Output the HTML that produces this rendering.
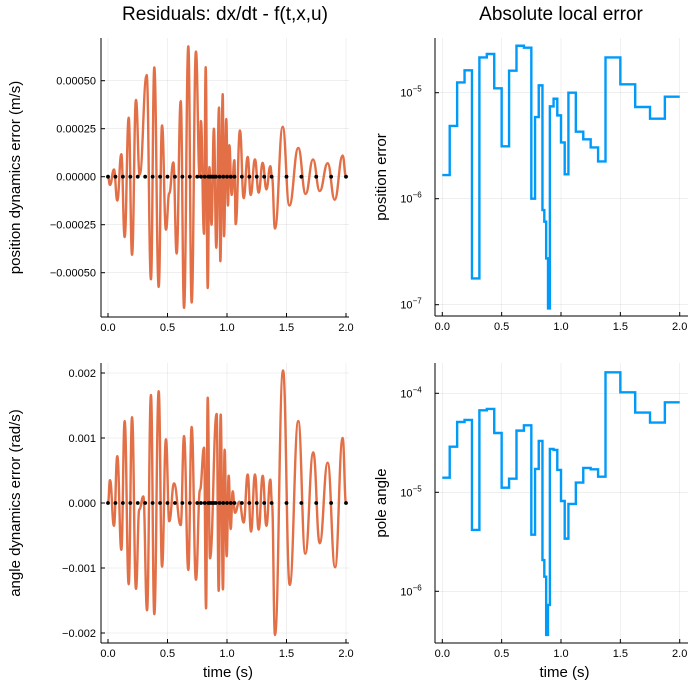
<!DOCTYPE html>
<html><head><meta charset="utf-8"><style>
html,body{margin:0;padding:0;background:#fff}
svg{display:block;font-family:"Liberation Sans","DejaVu Sans",sans-serif}
</style></head><body>
<svg id="chart" width="699" height="700" viewBox="0 0 699 700">
<rect x="0" y="0" width="699" height="700" fill="#fff"/>
<text x="225" y="20" font-size="19" text-anchor="middle" fill="#000">Residuals: dx/dt - f(t,x,u)</text>
<text x="561" y="20" font-size="19" text-anchor="middle" fill="#000">Absolute local error</text>
<g id="layer"></g>
</svg>
<script>
// mesh edges (time)
const meshT = [0,0.0625,0.125,0.1875,0.25,0.3125,0.375,0.4375,0.5,0.5625,0.625,0.6875,0.75,0.78125,0.8125,0.84375,0.859375,0.875,0.890625,0.90625,0.9375,0.96875,1.0,1.03125,1.0625,1.125,1.1875,1.25,1.3125,1.375,1.5,1.625,1.75,1.875,2.0];
// log10 of absolute local error per interval
const posErrLog = [-5.777,-5.314,-4.903,-4.789,-6.752,-4.667,-4.635,-4.959,-5.506,-4.792,-4.557,-4.575,-6.0,-5.230,-4.931,-6.107,-6.217,-6.563,-7.035,-5.129,-5.057,-5.214,-5.469,-5.770,-5.0,-5.368,-5.440,-5.516,-5.648,-4.667,-4.921,-5.135,-5.245,-5.038];
const angErrLog = [-4.852,-4.539,-4.290,-4.269,-5.380,-4.172,-4.158,-4.401,-4.953,-4.862,-4.377,-4.323,-5.428,-4.764,-4.481,-5.684,-5.852,-6.441,-6.138,-4.562,-4.572,-4.774,-5.088,-5.468,-5.118,-4.902,-4.754,-4.768,-4.842,-3.788,-3.990,-4.195,-4.296,-4.091];
// residual extrema: position in 1e-4 m/s
const posResT = [0,.017,.050,.078,.112,.140,.174,.202,.235,.266,
 .325,.361,.389,.426,.454,.487,.515,.549,.577,.611,
 .639,.675,.703,.739,.770,.781,.807,.821,.838,.852,
 .870,.890,.910,.933,.944,.964,.975,.994,1.008,1.020,
 1.039,1.062,1.073,1.109,1.140,1.174,1.199,1.235,1.266,1.300,
 1.331,1.364,1.378,1.403,1.468,1.524,1.599,1.661,1.723,1.779,
 1.846,1.905,1.972,2.0];
const posResV = [0,-0.43,0.38,-1.24,1.17,-3.14,3.07,-4.07,4.0,0.1,
 5.29,-5.34,5.69,-5.74,2.67,-2.76,-0.86,0.74,-4.0,3.93,
 -6.83,6.79,-6.55,6.52,0,2.9,-2.97,5.7,-5.8,0.5,
 -2.5,2.5,-3.7,3.6,-4.4,4.3,-3.1,3.0,-1.5,1.64,
 -0.95,0.86,-2.47,2.41,-1.12,1.03,-0.95,0.9,-0.83,0.72,
 -0.66,0.55,0,-2.7,2.6,-1.5,1.5,-0.9,0.9,-0.75,
 0.7,-1.2,1.1,0];
// angle residual extrema in 1e-3 rad/s
const angResT = [0,.017,.050,.078,.112,.140,.174,.202,.235,.263,
 .297,.328,.361,.389,.426,.454,.487,.515,.555,.611,
 .639,.675,.703,.739,.773,.807,.824,.838,.857,.913,
 .930,.947,.966,.980,.997,1.014,1.031,1.048,1.067,1.104,
 1.140,1.174,1.202,1.235,1.266,1.300,1.331,1.364,1.378,1.403,
 1.471,1.527,1.599,1.658,1.725,1.779,1.846,1.908,1.972,2.0];
const angResV = [0,.35,-.35,.72,-.72,1.26,-1.25,1.32,-1.32,-0.1,
 .1,-1.65,1.66,-1.71,1.72,-.98,.98,-.28,.3,-.34,
 1.03,-1.03,1.17,-1.18,.2,.85,-1.62,1.62,-.85,1.37,
 -1.35,1.36,-1.33,.82,-.82,.42,-.4,.18,-.15,.02,
 -.3,.44,-.44,.44,-.41,.42,-.35,.36,0,-2.03,
 2.04,-1.26,1.26,-.78,.78,-.62,.62,-.99,1.0,0];
const xTicks = [0,0.5,1.0,1.5,2.0];
const xTickLabels = ["0.0","0.5","1.0","1.5","2.0"];
const posTicks = [5,2.5,0,-2.5,-5];
const posTickLabels = ["0.00050","0.00025","0.00000","−0.00025","−0.00050"];
const angTicks = [2,1,0,-1,-2];
const angTickLabels = ["0.002","0.001","0.000","−0.001","−0.002"];
const posLogTicks = [-5,-6,-7];
const angLogTicks = [-4,-5,-6];

const NS="http://www.w3.org/2000/svg";
const layer=document.getElementById('layer');
function mk(tag,attrs,parent){const e=document.createElementNS(NS,tag);for(const k in attrs)e.setAttribute(k,attrs[k]);(parent||layer).appendChild(e);return e;}

const panels = {
  tl:{x0:101,x1:349,y0:38,y1:317,tx0:108,tsc:119,vy0:176.7,vsc:-19.2},
  bl:{x0:101,x1:349,y0:363,y1:643,tx0:108,tsc:119,vy0:503,vsc:-65},
  tr:{x0:435,x1:688,y0:38,y1:316,tx0:442.3,tsc:118.7,ly:92.7,lsc:106,lref:-5},
  br:{x0:435,x1:688,y0:363,y1:643,tx0:442.3,tsc:118.7,ly:393.3,lsc:99,lref:-4}
};
function X(p,t){return p.tx0+t*p.tsc;}
function YL(p,v){return p.vy0+v*p.vsc;}
function YG(p,l){return p.ly+(p.lref-l)*p.lsc;}

function frame(p,name,yTickVals,yFn,yLabelFn,ylabel,xlabel){
  const g=mk('g',{});
  
  
  xTicks.forEach((t,i)=>{
    const x=X(p,t);
    const gl=mk('line',{x1:x,x2:x,y1:p.y0,y2:p.y1,stroke:'#000','stroke-opacity':0.1,'stroke-width':0.6},g);
    
    
    mk('line',{x1:x,x2:x,y1:p.y1,y2:p.y1-4,stroke:'#000','stroke-width':1},g);
    const tl=mk('text',{x:x,y:p.y1+14,'font-size':11,'text-anchor':'middle',fill:'#000'},g);
    tl.textContent=xTickLabels[i];
    
    
  });
  yTickVals.forEach((v,i)=>{
    const y=yFn(v);
    const gl=mk('line',{x1:p.x0,x2:p.x1,y1:y,y2:y,stroke:'#000','stroke-opacity':0.1,'stroke-width':0.6},g);
    
    
    mk('line',{x1:p.x0,x2:p.x0+4,y1:y,y2:y,stroke:'#000','stroke-width':1},g);
    yLabelFn(g,v,i,y);
  });
  mk('line',{x1:p.x0,x2:p.x0,y1:p.y0,y2:p.y1,stroke:'#000','stroke-width':1},g);
  mk('line',{x1:p.x0,x2:p.x1,y1:p.y1,y2:p.y1,stroke:'#000','stroke-width':1},g);
  const cy=(p.y0+p.y1)/2;
  const lx = p.x0<200 ? 20 : 386;
  const yl=mk('text',{x:lx,y:cy,'font-size':15,'text-anchor':'middle',transform:`rotate(-90 ${lx} ${cy})`,fill:'#000'},g);
  yl.textContent=ylabel;
  
  
  if(xlabel){
    const xl=mk('text',{x:(p.x0+p.x1)/2+3,y:677,'font-size':15,'text-anchor':'middle',fill:'#000'},g);
    xl.textContent=xlabel;
    
    
  }
}
function linLabel(labels){return (g,v,i,y)=>{
  const t=mk('text',{x:96,y:y+4,'font-size':11,'text-anchor':'end',fill:'#000'},g);
  t.textContent=labels[i];
  
  
};}
function logLabel(g,v,i,y){
  const t=mk('text',{x:411,y:y+4,'font-size':11,'text-anchor':'middle',fill:'#000'},g);
  
  
  const a=mk('tspan',{},t);a.textContent='10';
  const b=mk('tspan',{dy:-5,'font-size':8},t);b.textContent=String(v).replace('-','−');
}

function residual(p,ts,vs,name){
  const n=Math.min(ts.length,vs.length);
  let d='M'+X(p,ts[0])+','+YL(p,vs[0]);
  for(let i=1;i<n;i++){
    const xa=X(p,ts[i-1]),ya=YL(p,vs[i-1]),xb=X(p,ts[i]),yb=YL(p,vs[i]);
    const h=(xb-xa)*0.45;
    d+=` C${xa+h},${ya} ${xb-h},${yb} ${xb},${yb}`;
  }
  const path=mk('path',{d:d,fill:'none',stroke:'#e26f46','stroke-width':2.4,'stroke-linejoin':'round'});
  
  
  meshT.forEach(t=>{
    const c=mk('circle',{cx:X(p,t),cy:YL(p,0),r:1.9,fill:'#000'});
    
    
  });
}
function steps(p,logs,name){
  let d='';
  for(let i=0;i<logs.length;i++){
    const y=YG(p,logs[i]);
    d+=(i===0?'M':'L')+X(p,meshT[i])+','+y+' L'+X(p,meshT[i+1])+','+y+' ';
  }
  const path=mk('path',{d:d,fill:'none',stroke:'#009af9','stroke-width':2.4,'stroke-linejoin':'miter'});
  
  
}

frame(panels.tl,'position-residual-panel',posTicks,v=>YL(panels.tl,v),linLabel(posTickLabels),'position dynamics error (m/s)',null);
frame(panels.bl,'angle-residual-panel',angTicks,v=>YL(panels.bl,v),linLabel(angTickLabels),'angle dynamics error (rad/s)','time (s)');
frame(panels.tr,'position-error-panel',posLogTicks,v=>YG(panels.tr,v),logLabel,'position error',null);
frame(panels.br,'angle-error-panel',angLogTicks,v=>YG(panels.br,v),logLabel,'pole angle','time (s)');

residual(panels.tl,posResT,posResV,'position-residual-line');
residual(panels.bl,angResT,angResV,'angle-residual-line');
steps(panels.tr,posErrLog,'position-error-line');
steps(panels.br,angErrLog,'angle-error-line');
</script>
</body></html>
